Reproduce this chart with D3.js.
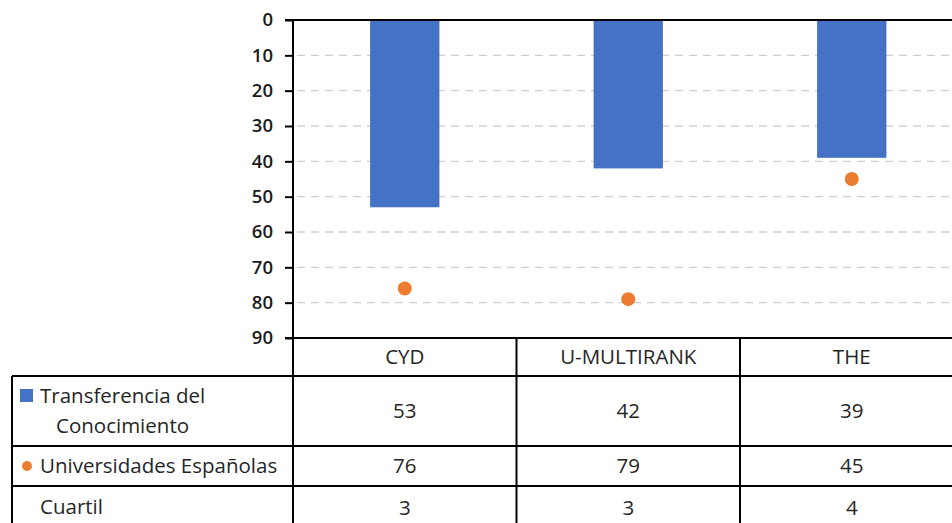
<!DOCTYPE html>
<html lang="es">
<head>
<meta charset="UTF-8">
<title>Transferencia del Conocimiento</title>
<script src="https://d3js.org/d3.v7.min.js"></script>
<style>
  body { margin: 0; background: #fff; }
  svg { font-family: "Open Sans", "Liberation Sans", sans-serif; }
  .tick-label { font-size: 18.5px; font-weight: 600; fill: #1a1a1a; }
  .cell { font-size: 20.5px; fill: #262626; }
  .grid { stroke: #d0d0d0; stroke-width: 1.3; stroke-dasharray: 8 6; }
  .rule { stroke: #000; stroke-width: 2; }
</style>
</head>
<body>
<svg id="svg" width="952" height="523"></svg>
<script>
// data
const categories = ['CYD', 'U-MULTIRANK', 'THE'];
const transferencia = [53, 42, 39];
const universidades = [76, 79, 45];
const cuartil = [3, 3, 4];
const yTicks = [0, 10, 20, 30, 40, 50, 60, 70, 80, 90];

const svg = d3.select('#svg');

const plotLeft = 293, plotTop = 20, plotBottom = 338;
const colW = 223.5;

let y = d3.scaleLinear().domain([0, 90]).range([plotTop, plotBottom]);
let x = d3.scaleBand()
    .domain(categories)
    .range([plotLeft, plotLeft + colW * categories.length])
    .paddingInner(0.69).paddingOuter(0.345);
let col = d3.scaleBand().domain(categories).range([plotLeft, plotLeft + colW * categories.length]);

// gridlines
svg.append('g')
    .selectAll('line')
    .data(yTicks.filter(d => d > 0 && d < 90))
    .enter().append('line')
    .attr('class', 'grid')
    .attr('x1', plotLeft + 4).attr('x2', 952)
    .attr('y1', d => y(d)).attr('y2', d => y(d));

// bars
svg.append('g')
    .selectAll('rect')
    .data(transferencia)
    .enter().append('rect')
    .attr('x', (d, i) => x(categories[i]))
    .attr('y', y(0))
    .attr('width', x.bandwidth())
    .attr('height', d => y(d) - y(0))
    .attr('fill', '#4472c4');

// dots
svg.append('g')
    .selectAll('circle')
    .data(universidades)
    .enter().append('circle')
    .attr('cx', (d, i) => col(categories[i]) + col.bandwidth() / 2)
    .attr('cy', d => y(d))
    .attr('r', 7)
    .attr('fill', '#ed7d31');

// y axis
let yAxis = d3.axisLeft(y).tickValues(yTicks).tickSize(8).tickPadding(12);
let ag = svg.append('g').attr('transform', `translate(${plotLeft},0)`).call(yAxis);
ag.attr('font-family', null).attr('font-size', null);
ag.select('.domain').remove();
ag.selectAll('.tick line').attr('stroke', '#000').attr('stroke-width', 2);
ag.selectAll('.tick text').attr('class', 'tick-label').attr('fill', null);
svg.append('line').attr('class', 'rule')
    .attr('x1', plotLeft).attr('x2', plotLeft).attr('y1', plotTop - 1).attr('y2', 523);
svg.append('line').attr('class', 'rule')
    .attr('x1', plotLeft - 8).attr('x2', 952).attr('y1', plotTop).attr('y2', plotTop);

// data table
const rowY = [338, 376, 446, 486, 530];
const tableLeft = 12;

rowY.slice(0, 4).forEach((ry, i) => {
    svg.append('line').attr('class', 'rule')
        .attr('x1', i === 0 ? plotLeft - 8 : tableLeft).attr('x2', 952)
        .attr('y1', ry).attr('y2', ry);
});
svg.append('line').attr('class', 'rule')
    .attr('x1', tableLeft).attr('x2', tableLeft).attr('y1', rowY[1]).attr('y2', 523);
categories.slice(1).forEach(c => {
    svg.append('line').attr('class', 'rule')
        .attr('x1', col(c)).attr('x2', col(c)).attr('y1', rowY[0]).attr('y2', 523);
});

// header
svg.append('g').selectAll('text')
    .data(categories).enter().append('text')
    .attr('class', 'cell')
    .attr('x', d => col(d) + col.bandwidth() / 2)
    .attr('y', (rowY[0] + rowY[1]) / 2)
    .attr('dy', '0.35em')
    .attr('text-anchor', 'middle')
    .text(d => d);

const rows = [transferencia, universidades, cuartil];
rows.forEach((vals, r) => {
    svg.append('g').selectAll('text')
        .data(vals).enter().append('text')
        .attr('class', 'cell')
        .attr('x', (d, i) => col(categories[i]) + col.bandwidth() / 2)
        .attr('y', (rowY[r + 1] + rowY[r + 2]) / 2)
        .attr('dy', '0.35em')
        .attr('text-anchor', 'middle')
        .text(d => d);
});

// row labels with legend keys
svg.append('rect').attr('x', 20).attr('y', 389).attr('width', 13).attr('height', 13).attr('fill', '#4472c4');
svg.append('text').attr('class', 'cell').attr('x', 40).attr('y', 403).text('Transferencia del');
svg.append('text').attr('class', 'cell').attr('x', 56).attr('y', 433).text('Conocimiento');
svg.append('circle').attr('cx', 27).attr('cy', 466).attr('r', 5).attr('fill', '#ed7d31');
svg.append('text').attr('class', 'cell').attr('x', 40).attr('y', 466).attr('dy', '0.35em').text('Universidades Españolas');
svg.append('text').attr('class', 'cell').attr('x', 40).attr('y', 507).attr('dy', '0.35em').text('Cuartil');
</script>
</body>
</html>
